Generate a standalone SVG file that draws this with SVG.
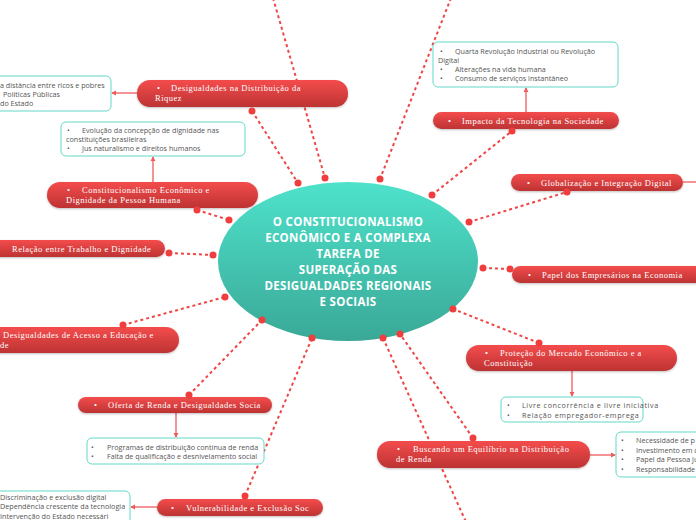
<svg xmlns="http://www.w3.org/2000/svg" width="696" height="520" viewBox="0 0 696 520">
<defs>
<linearGradient id="gRed" x1="0" y1="0" x2="0" y2="1">
<stop offset="0" stop-color="#f44c4c"/>
<stop offset="1" stop-color="#bd3333"/>
</linearGradient>
<linearGradient id="gTeal" x1="0" y1="0" x2="0" y2="1">
<stop offset="0" stop-color="#4ee2cb"/>
<stop offset="1" stop-color="#3aa897"/>
</linearGradient>
<marker id="arr" viewBox="0 0 6 6" refX="5" refY="3" markerWidth="4" markerHeight="4" orient="auto">
<path d="M0,0 L6,3 L0,6 z" fill="#f05a5a"/>
</marker>
<filter id="sh" x="-10%" y="-20%" width="120%" height="160%">
<feDropShadow dx="0" dy="1" stdDeviation="0.8" flood-color="#000" flood-opacity="0.25"/>
</filter>
</defs>
<style>
.pill{fill:url(#gRed);filter:url(#sh)}
.pt{font-family:"Liberation Serif","DejaVu Serif",serif;font-size:8.5px;fill:#fff;letter-spacing:0.5px}
.box{fill:#fff;stroke:#63d9c9;stroke-width:1}
.bt{font-family:"Open Sans","Liberation Sans",sans-serif;font-size:7.2px;fill:#555}
.wide{letter-spacing:0.6px}
.dash{stroke:#f04545;stroke-width:2;stroke-dasharray:3 3;fill:none}
.dot{fill:#f03e3e}
.solid{stroke:#f05a5a;stroke-width:1.3;fill:none;marker-end:url(#arr)}
.ct{font-family:"Open Sans","Liberation Sans",sans-serif;font-size:11.5px;font-weight:bold;fill:#fff;text-anchor:middle;letter-spacing:0.3px}
</style>
<rect width="696" height="520" fill="#fff"/>
<g id="connectors">
<line class="dash" x1="273" y1="-2" x2="325" y2="178"/>
<line class="dash" x1="451" y1="-2" x2="380" y2="179"/>
<line class="dash" x1="252" y1="111" x2="298" y2="183"/>
<line class="dash" x1="197" y1="210" x2="229" y2="220"/>
<line class="dash" x1="169" y1="253" x2="213" y2="255"/>
<line class="dash" x1="123" y1="325" x2="225" y2="297"/>
<line class="dash" x1="189" y1="395" x2="262" y2="320"/>
<line class="dash" x1="245" y1="496" x2="312" y2="338"/>
<line class="dash" x1="473" y1="438" x2="400" y2="334"/>
<line class="dash" x1="383" y1="338" x2="466" y2="522"/>
<line class="dash" x1="539" y1="343" x2="453" y2="309"/>
<line class="dash" x1="483" y1="268" x2="510" y2="269"/>
<line class="dash" x1="469" y1="222" x2="567" y2="192"/>
<line class="dash" x1="432" y1="195" x2="512" y2="131"/>
<line class="solid" x1="137" y1="93" x2="112" y2="93"/>
<line class="solid" x1="153" y1="182" x2="153" y2="157"/>
<line class="solid" x1="526" y1="112" x2="526" y2="88"/>
<line class="solid" x1="572" y1="371" x2="572" y2="396"/>
<line class="solid" x1="590" y1="455" x2="615" y2="455"/>
<line class="solid" x1="176" y1="413" x2="176" y2="437"/>
<line class="solid" x1="157" y1="507" x2="131" y2="507"/>
<line class="solid" x1="683" y1="182" x2="700" y2="182"/>
</g>
<g id="center">
<ellipse cx="348" cy="261.5" rx="130" ry="79.5" fill="url(#gTeal)"/>
<text class="ct" x="348" y="226">O CONSTITUCIONALISMO</text>
<text class="ct" x="348" y="242">ECONÔMICO E A COMPLEXA</text>
<text class="ct" x="348" y="258">TAREFA DE</text>
<text class="ct" x="348" y="274">SUPERAÇÃO DAS</text>
<text class="ct" x="348" y="290">DESIGUALDADES REGIONAIS</text>
<text class="ct" x="348" y="306">E SOCIAIS</text>
</g>
<g id="n-desig-riqueza">
<rect class="pill" x="137" y="80" width="211" height="27" rx="13"/>
<text class="pt" x="157" y="91">•</text>
<text class="pt" x="171" y="91">Desigualdades na Distribuição da</text>
<text class="pt" x="155" y="101">Riquez</text>
</g>
<g id="b-desig-riqueza">
<rect class="box" x="-10" y="76" width="121" height="35" rx="5"/>
<text class="bt" x="0" y="88">a distância entre ricos e pobres</text>
<text class="bt" x="3" y="97">Políticas Públicas</text>
<text class="bt" x="0" y="106">do Estado</text>
</g>
<g id="n-constitucionalismo">
<rect class="pill" x="47" y="182" width="211" height="26" rx="13"/>
<text class="pt" x="67" y="193">•</text>
<text class="pt" x="82" y="193">Constitucionalismo Econômico e</text>
<text class="pt" x="66" y="203">Dignidade da Pessoa Humana</text>
</g>
<g id="b-constitucionalismo">
<rect class="box" x="61" y="122" width="184" height="34" rx="5"/>
<text class="bt" x="67" y="133">•</text>
<text class="bt" x="82" y="133">Evolução da concepção de dignidade nas</text>
<text class="bt" x="66" y="142">constituições brasileiras</text>
<text class="bt" x="67" y="151">•</text>
<text class="bt" x="82" y="151">Jus naturalismo e direitos humanos</text>
</g>
<g id="n-trabalho">
<rect class="pill" x="-20" y="240" width="185" height="17" rx="8.5"/>
<text class="pt" x="12" y="252">Relação entre Trabalho e Dignidade</text>
</g>
<g id="n-educacao">
<rect class="pill" x="-20" y="327" width="199" height="26" rx="13"/>
<text class="pt" x="3" y="338">Desigualdades de Acesso a Educação e</text>
<text class="pt" x="0" y="348">de</text>
</g>
<g id="n-oferta">
<rect class="pill" x="78" y="397" width="194" height="16" rx="8"/>
<text class="pt" x="94" y="408">•</text>
<text class="pt" x="108" y="408">Oferta de Renda e Desigualdades Socia</text>
</g>
<g id="b-oferta">
<rect class="box" x="87" y="438" width="177" height="26" rx="5"/>
<text class="bt" x="91" y="450">•</text>
<text class="bt" x="107" y="450">Programas de distribuição contínua de renda</text>
<text class="bt" x="91" y="459">•</text>
<text class="bt" x="107" y="459">Falta de qualificação e desnivelamento social</text>
</g>
<g id="n-vulnerabilidade">
<rect class="pill" x="157" y="499" width="166" height="17" rx="8.5"/>
<text class="pt" x="171" y="511">•</text>
<text class="pt" x="186" y="511">Vulnerabilidade e Exclusão Soc</text>
</g>
<g id="b-vulnerabilidade">
<rect class="box" x="-10" y="491" width="140" height="40" rx="5"/>
<text class="bt" x="0" y="499.5">Discriminação e exclusão digital</text>
<text class="bt" x="0" y="509">Dependência crescente da tecnologia</text>
<text class="bt" x="0" y="518.5">Intervenção do Estado necessári</text>
</g>
<g id="n-buscando">
<rect class="pill" x="377" y="441" width="213" height="27" rx="13"/>
<text class="pt" x="397" y="452">•</text>
<text class="pt" x="413" y="452">Buscando um Equilíbrio na Distribuição</text>
<text class="pt" x="396" y="462">de Renda</text>
</g>
<g id="b-buscando">
<rect class="box" x="616" y="432" width="100" height="45" rx="5"/>
<text class="bt" x="621" y="443">•</text>
<text class="bt" x="636" y="443">Necessidade de p</text>
<text class="bt" x="621" y="453">•</text>
<text class="bt" x="636" y="453">Investimento em c</text>
<text class="bt" x="621" y="462">•</text>
<text class="bt" x="636" y="462">Papel da Pessoa ju</text>
<text class="bt" x="621" y="472">•</text>
<text class="bt" x="636" y="472">Responsabilidade</text>
</g>
<g id="n-protecao">
<rect class="pill" x="466" y="345" width="211" height="26" rx="13"/>
<text class="pt" x="485" y="356">•</text>
<text class="pt" x="500" y="356">Proteção do Mercado Econômico e a</text>
<text class="pt" x="484" y="366">Constituição</text>
</g>
<g id="b-protecao">
<rect class="box" x="501" y="397" width="142" height="25" rx="5"/>
<text class="bt" x="507" y="408">•</text>
<text class="bt wide" x="522" y="408">Livre concorrência e livre iniciativa</text>
<text class="bt" x="507" y="418">•</text>
<text class="bt wide" x="522" y="418">Relação empregador-emprega</text>
</g>
<g id="n-papel">
<rect class="pill" x="512" y="266" width="200" height="17" rx="8.5"/>
<text class="pt" x="528" y="278">•</text>
<text class="pt" x="542" y="278">Papel dos Empresários na Economia</text>
</g>
<g id="n-globalizacao">
<rect class="pill" x="511" y="174" width="172" height="17" rx="8.5"/>
<text class="pt" x="527" y="186">•</text>
<text class="pt" x="541" y="186">Globalização e Integração Digital</text>
</g>
<g id="n-impacto">
<rect class="pill" x="433" y="112" width="186" height="17" rx="8.5"/>
<text class="pt" x="448" y="124">•</text>
<text class="pt" x="462" y="124">Impacto da Tecnologia na Sociedade</text>
</g>
<g id="b-impacto">
<rect class="box" x="433" y="42" width="185" height="45" rx="5"/>
<text class="bt" x="440" y="54">•</text>
<text class="bt" x="455" y="54">Quarta Revolução Industrial ou Revolução</text>
<text class="bt" x="438" y="63">Digital</text>
<text class="bt" x="440" y="72">•</text>
<text class="bt" x="455" y="72">Alterações na vida humana</text>
<text class="bt" x="440" y="81">•</text>
<text class="bt" x="455" y="81">Consumo de serviços instantâneo</text>
</g>
<g id="dots">
<circle class="dot" cx="325" cy="178" r="3.5"/>
<circle class="dot" cx="380" cy="179" r="3.5"/>
<circle class="dot" cx="252" cy="111" r="3.5"/>
<circle class="dot" cx="298" cy="183" r="3.5"/>
<circle class="dot" cx="197" cy="210" r="3.5"/>
<circle class="dot" cx="229" cy="220" r="3.5"/>
<circle class="dot" cx="169" cy="253" r="3.5"/>
<circle class="dot" cx="213" cy="255" r="3.5"/>
<circle class="dot" cx="123" cy="325" r="3.5"/>
<circle class="dot" cx="225" cy="297" r="3.5"/>
<circle class="dot" cx="189" cy="395" r="3.5"/>
<circle class="dot" cx="262" cy="320" r="3.5"/>
<circle class="dot" cx="245" cy="496" r="3.5"/>
<circle class="dot" cx="312" cy="338" r="3.5"/>
<circle class="dot" cx="473" cy="438" r="3.5"/>
<circle class="dot" cx="400" cy="334" r="3.5"/>
<circle class="dot" cx="383" cy="338" r="3.5"/>
<circle class="dot" cx="539" cy="343" r="3.5"/>
<circle class="dot" cx="453" cy="309" r="3.5"/>
<circle class="dot" cx="483" cy="268" r="3.5"/>
<circle class="dot" cx="510" cy="269" r="3.5"/>
<circle class="dot" cx="469" cy="222" r="3.5"/>
<circle class="dot" cx="567" cy="192" r="3.5"/>
<circle class="dot" cx="432" cy="195" r="3.5"/>
<circle class="dot" cx="512" cy="131" r="3.5"/>
</g>
</svg>
